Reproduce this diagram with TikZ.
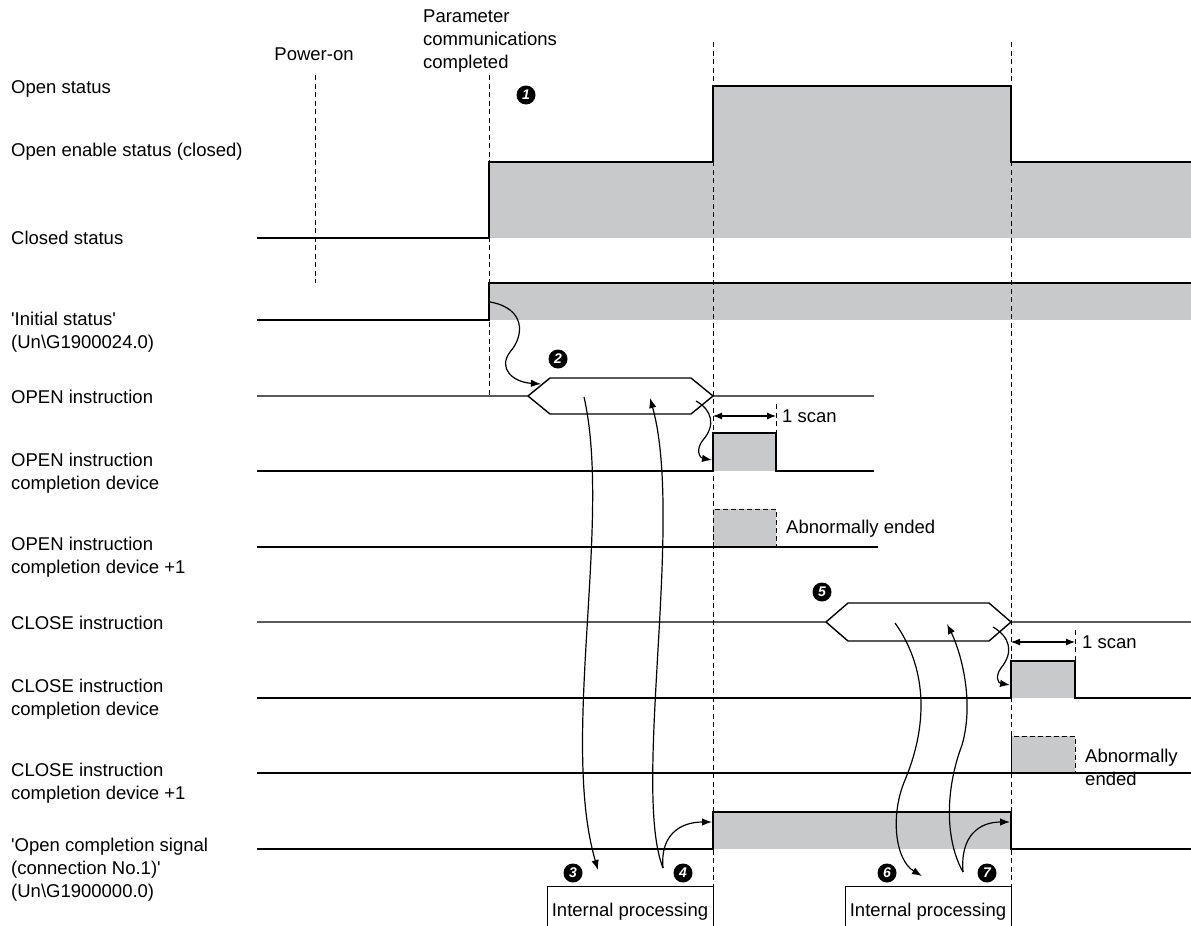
\documentclass[tikz,border=0pt]{standalone}
\usepackage{fontspec}
\setmainfont{Liberation Sans}
\usetikzlibrary{arrows.meta}
\definecolor{sgray}{RGB}{200,201,203}
\newcommand\lbfont{\fontsize{18.5}{23}\selectfont}
\newcommand\sq{\textquotesingle}
\tikzset{
  sig/.style={line width=1.4pt},
  thinl/.style={line width=0.9pt},
  vguide/.style={line width=0.8pt, dash pattern=on 5pt off 3.5pt},
  gfill/.style={fill=sgray},
  lbl/.style={font=\lbfont, inner sep=0pt, anchor=base west},
  mlbl/.style={font=\lbfont, inner sep=0pt, anchor=west, align=left},
  curv/.style={line width=1.2pt, -{Latex[length=10pt,width=7.5pt]}},
  scanarr/.style={line width=1.1pt, {Latex[length=9pt,width=7pt]}-{Latex[length=9pt,width=7pt]}},
  numdot/.style={circle, fill=black, text=white, inner sep=0pt, minimum size=19pt,
    font=\fontsize{14}{14}\selectfont\bfseries\itshape}
}
\begin{document}
\begin{tikzpicture}[x=1pt,y=-1pt]
\useasboundingbox (0,0) rectangle (1191,926);

% ---------- gray fills ----------
\fill[gfill] (489,162) rectangle (713,238);
\fill[gfill] (713,86) rectangle (1011,238);
\fill[gfill] (1011,162) rectangle (1191,238);
\fill[gfill] (489,283) rectangle (1191,320);
\fill[gfill] (713,433) rectangle (776,471);
\fill[gfill] (713,509) rectangle (776,547);
\fill[gfill] (1011,661) rectangle (1075,698);
\fill[gfill] (1011,736) rectangle (1075,773);
\fill[gfill] (713,812) rectangle (1011,849);

% ---------- vertical guides ----------
\draw[vguide] (315,75) -- (315,283);
\draw[vguide] (489,75) -- (489,396);
\draw[vguide] (713,42) -- (713,926);
\draw[vguide] (1011,42) -- (1011,926);
\draw[vguide] (776,404) -- (776,433);
\draw[vguide] (1075,630) -- (1075,661);

% ---------- row labels ----------
\node[lbl] (l1) at (11,93) {Open status};
\node[lbl] (l2) at (11,156) {Open enable status (closed)};
\node[lbl] (l3) at (11,244) {Closed status};
\node[mlbl] (l4) at (11,332) {\sq Initial status\sq\\(Un\textbackslash G1900024.0)};
\node[lbl] (l5) at (11,403) {OPEN instruction};
\node[mlbl] (l6) at (11,473) {OPEN instruction\\completion device};
\node[mlbl] (l7) at (11,557) {OPEN instruction\\completion device +1};
\node[lbl] (l8) at (11,629) {CLOSE instruction};
\node[mlbl] (l9) at (11,699) {CLOSE instruction\\completion device};
\node[mlbl] (l10) at (11,783) {CLOSE instruction\\completion device +1};
\node[mlbl] (l11) at (11,870) {\sq Open completion signal\\(connection No.1)\sq\\(Un\textbackslash G1900000.0)};

% ---------- top labels ----------
\node[font=\lbfont, inner sep=0pt, anchor=base] (pon) at (314,60) {Power-on};
\node[mlbl] (pcc) at (423,41) {Parameter\\communications\\completed};

% ---------- signals ----------
\draw[sig] (257,238) -- (489,238) -- (489,162) -- (713,162) -- (713,86) -- (1011,86) -- (1011,162) -- (1191,162);
\draw[sig] (257,320) -- (489,320) -- (489,283) -- (1191,283);
% OPEN instruction
\draw[sig] (257,396) -- (528,396) -- (550,378) -- (691,378) -- (713,396) -- (874,396);
\draw[sig] (528,396) -- (550,414) -- (691,414) -- (713,396);
\draw[sig] (257,471) -- (713,471) -- (713,433) -- (776,433) -- (776,471) -- (874,471);
\draw[sig] (257,547) -- (878,547);
\draw[thinl, dash pattern=on 5pt off 3pt] (713,547) -- (713,509) -- (776,509) -- (776,547);
% CLOSE instruction
\draw[sig] (257,622) -- (826,622) -- (848,603) -- (989,603) -- (1011,622) -- (1191,622);
\draw[sig] (826,622) -- (848,641) -- (989,641) -- (1011,622);
\draw[sig] (257,698) -- (1011,698) -- (1011,661) -- (1075,661) -- (1075,698) -- (1191,698);
\draw[sig] (257,773) -- (1191,773);
\draw[thinl, dash pattern=on 5pt off 3pt] (1011,773) -- (1011,736) -- (1075,736) -- (1075,773);
% Open completion signal
\draw[sig] (257,849) -- (713,849) -- (713,812) -- (1011,812) -- (1011,849) -- (1191,849);

% ---------- 1 scan ----------
\coordinate (s1a) at (713,416); \coordinate (s1b) at (776,416);
\draw[scanarr] (s1a) -- (s1b);
\node[lbl] (scan1) at (782,422) {1 scan};
\coordinate (s2a) at (1011,642); \coordinate (s2b) at (1075,642);
\draw[scanarr] (s2a) -- (s2b);
\node[lbl] (scan2) at (1082,648) {1 scan};

% ---------- abnormally ended ----------
\node[lbl] (ab1) at (786,533) {Abnormally ended};
\node[mlbl] (ab2) at (1085,767) {Abnormally\\ended};

% ---------- internal processing ----------
\draw[thinl] (547,926) -- (547,886) -- (713,886) -- (713,926);
\draw[thinl] (845,926) -- (845,886) -- (1011,886) -- (1011,926);
\node[font=\lbfont, inner sep=0pt, anchor=base] (ip1) at (630,916) {Internal processing};
\node[font=\lbfont, inner sep=0pt, anchor=base] (ip2) at (928,916) {Internal processing};

% ---------- number markers ----------
\node[numdot] (n1) at (526,95) {1};
\node[numdot] (n2) at (558,359) {2};
\node[numdot] (n3) at (573,873) {3};
\node[numdot] (n4) at (683,873) {4};
\node[numdot] (n5) at (822,592) {5};
\node[numdot] (n6) at (887,873) {6};
\node[numdot] (n7) at (987,873) {7};

% ---------- curved arrows ----------
\coordinate (c1s) at (490,302); \coordinate (c1e) at (541,384);
\draw[curv] (c1s) .. controls (525,308) and (525,335) .. (510,352) .. controls (498,368) and (512,382) .. (c1e);
\coordinate (c2s) at (696,401); \coordinate (c2e) at (712,460);
\draw[curv] (c2s) .. controls (712,410) and (716,425) .. (703,440) .. controls (695,450) and (700,458) .. (c2e);
\coordinate (c3s) at (584,397); \coordinate (c3e) at (598,870);
\draw[curv] (c3s) .. controls (612,520) and (560,740) .. (c3e);
\coordinate (c4s) at (663,868); \coordinate (c4e) at (650,398); \coordinate (c4f) at (712,822);
\draw[curv] (c4s) .. controls (632,790) and (684,520) .. (c4e);
\draw[curv] (c4s) .. controls (660,835) and (680,822) .. (c4f);
\coordinate (c6s) at (895,623); \coordinate (c6e) at (922,876);
\draw[curv] (c6s) .. controls (925,665) and (930,720) .. (905,780) .. controls (890,815) and (895,860) .. (c6e);
\coordinate (c7s) at (963,872); \coordinate (c7e) at (947,624); \coordinate (c7f) at (1010,822);
\draw[curv] (c7s) .. controls (945,840) and (945,790) .. (962,745) .. controls (975,700) and (960,650) .. (c7e);
\draw[curv] (c7s) .. controls (960,835) and (980,822) .. (c7f);
\coordinate (c8s) at (993,627); \coordinate (c8e) at (1010,685);
\draw[curv] (c8s) .. controls (1010,637) and (1014,652) .. (1001,668) .. controls (995,676) and (998,683) .. (c8e);
\end{tikzpicture}
\end{document}
